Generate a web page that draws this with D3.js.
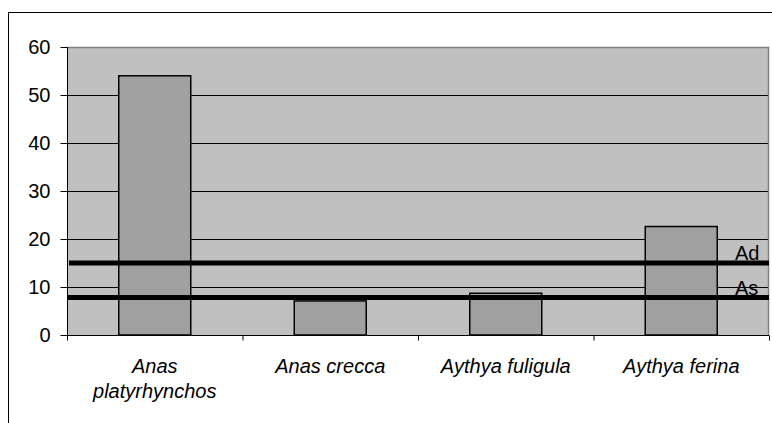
<!DOCTYPE html>
<html><head><meta charset="utf-8">
<script src="https://cdn.jsdelivr.net/npm/d3@7"></script>
<style>body{margin:0;background:#fff}svg{display:block}</style>
</head><body>
<svg id="c" width="772" height="423"></svg>
<script>
const categories = [["Anas","platyrhynchos"],["Anas crecca"],["Aythya fuligula"],["Aythya ferina"]];
const values = [54.0, 7.1, 8.7, 22.6];
const yTicks = [0,10,20,30,40,50,60];
const refLines = [{label:"Ad", value:15.0},{label:"As", value:7.8}];

const svg = d3.select("#c");
const font = "'Liberation Sans', Arial, sans-serif";
// outer chart border
svg.append("rect").attr("x",8.5).attr("y",12.5).attr("width",800).attr("height",500)
  .attr("fill","#fff").attr("stroke","#000").attr("stroke-width",1);

const L=67, R=769, T=47, B=335;
const xb = d3.scaleBand().domain(d3.range(categories.length)).range([L,R]);
const y = d3.scaleLinear().domain([0,60]).range([B,T]);

svg.append("rect").attr("x",L).attr("y",T).attr("width",R-L).attr("height",B-T).attr("fill","#c0c0c0");
// grid
svg.append("g").selectAll("line").data(yTicks.filter(d=>d>0&&d<60)).join("line")
  .attr("x1",L).attr("x2",R).attr("y1",d=>Math.round(y(d))+0.5).attr("y2",d=>Math.round(y(d))+0.5)
  .attr("stroke","#000").attr("stroke-width",1);
// plot border top/right
svg.append("path").attr("d",`M${L},${T+0.5}H${R-0.5}V${B}`).attr("fill","none").attr("stroke","#808080").attr("stroke-width",1.5);

// bars
svg.append("g").selectAll("rect").data(values).join("rect")
  .attr("x",(d,i)=>xb(i)+xb.bandwidth()/2-36).attr("width",72)
  .attr("y",d=>y(d)).attr("height",d=>B-y(d))
  .attr("fill","#a0a0a0").attr("stroke","#000").attr("stroke-width",1.5);

// reference lines
const rl = svg.append("g");
rl.selectAll("line").data(refLines).join("line")
  .attr("x1",(d,i)=>L+(i===0?2:1)).attr("x2",R).attr("y1",d=>y(d.value)).attr("y2",d=>y(d.value))
  .attr("stroke","#000").attr("stroke-width",5);
rl.selectAll("text").data(refLines).join("text")
  .attr("x",735).attr("y",d=>y(d.value)-3).text(d=>d.label)
  .attr("font-family",font).attr("font-size",20).attr("fill","#000");

// y axis
const yAxis = d3.axisLeft(y).tickValues(yTicks).tickSize(7).tickPadding(10);
const gy = svg.append("g").attr("transform",`translate(${L+0.5},0)`).call(yAxis);
gy.select(".domain").attr("stroke","#000").attr("d",`M0,${T}V${B}`);
gy.selectAll("text").attr("font-family",font).attr("font-size",20).attr("fill","#000");

// x axis
const gx = svg.append("g").attr("transform",`translate(0,${B+0.5})`);
gx.append("line").attr("x1",L).attr("x2",R).attr("stroke","#000");
gx.selectAll("line.t").data(d3.range(categories.length+1)).join("line").attr("class","t")
  .attr("x1",i=>L+i*xb.step()+0.5).attr("x2",i=>L+i*xb.step()+0.5).attr("y1",0).attr("y2",5).attr("stroke","#000");
gx.selectAll("text").data(categories).join("text")
  .attr("x",(d,i)=>xb(i)+xb.bandwidth()/2).attr("y",37)
  .attr("text-anchor","middle").attr("font-family",font).attr("font-size",20).attr("font-style","italic")
  .selectAll("tspan").data(d=>d).join("tspan")
  .attr("x",function(){return this.parentNode.getAttribute("x");}).attr("dy",(d,i)=>i===0?0:25).text(d=>d);
</script>
</body></html>
